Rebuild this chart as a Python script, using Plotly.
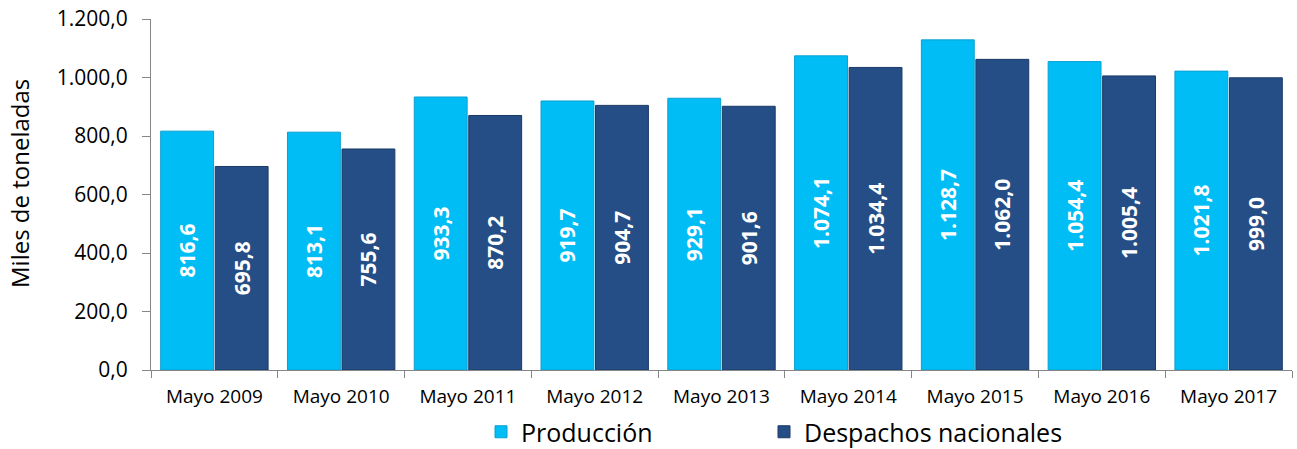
import plotly.graph_objects as go

categories = ["Mayo 2009", "Mayo 2010", "Mayo 2011", "Mayo 2012", "Mayo 2013",
              "Mayo 2014", "Mayo 2015", "Mayo 2016", "Mayo 2017"]
produccion = [816.6, 813.1, 933.3, 919.7, 929.1, 1074.1, 1128.7, 1054.4, 1021.8]
despachos = [695.8, 755.6, 870.2, 904.7, 901.6, 1034.4, 1062.0, 1005.4, 999.0]
y_ticks = [0, 200, 400, 600, 800, 1000, 1200]

FONT = "Open Sans"
label_font = dict(family=FONT, size=21, color="white")

fig = go.Figure()
fig.add_trace(go.Bar(
    x=categories, y=produccion, name="Producción", legend="legend",
    marker=dict(color="#00BDF6", line=dict(color="#0AA0D0", width=1)),
    texttemplate="<b>%{y:,.1f}</b>", textposition="inside", insidetextanchor="middle",
    textangle=-90, textfont=label_font,
))
fig.add_trace(go.Bar(
    x=categories, y=despachos, name="Despachos nacionales", legend="legend2",
    marker=dict(color="#244E85", line=dict(color="#1A3A66", width=1)),
    texttemplate="<b>%{y:,.1f}</b>", textposition="inside", insidetextanchor="middle",
    textangle=-90, textfont=label_font,
))

leg_common = dict(orientation="h", xanchor="left", y=-(432 - 370) / 351, yanchor="middle",
                  font=dict(size=25, family=FONT), itemwidth=30,
                  bgcolor="rgba(0,0,0,0)")
fig.update_layout(
    width=1297, height=449,
    margin=dict(l=151, r=5, t=19, b=79, autoexpand=False),
    paper_bgcolor="white", plot_bgcolor="white",
    separators=",.",
    barmode="group", bargap=0.14, bargroupgap=0.03,
    font=dict(family=FONT, color="black"),
    uniformtext=dict(mode="show", minsize=10),
    legend=dict(x=(481 - 151) / 1141, **leg_common),
    legend2=dict(x=(764 - 151) / 1141, **leg_common),
    showlegend=True,
    annotations=[dict(text="Miles de toneladas", textangle=-90, showarrow=False,
                      xref="paper", yref="paper", x=-(151 - 19) / 1141, y=(370 - 184) / 351,
                      xanchor="center", yanchor="middle",
                      font=dict(size=24, family=FONT, color="black"))],
)
fig.update_xaxes(
    showline=True, linecolor="#868686", linewidth=1,
    ticks="outside", tickson="boundaries", ticklen=7, tickcolor="#868686",
    tickfont=dict(size=19, family=FONT), ticklabelstandoff=9,
)
fig.update_yaxes(
    range=[0, 1200], tickvals=y_ticks, tickformat=",.1f",
    showline=True, linecolor="#868686", linewidth=1,
    ticks="outside", ticklen=8, tickcolor="#868686",
    showgrid=False, zeroline=False,
    tickfont=dict(size=21, family=FONT), ticklabelstandoff=10,
)
fig.write_html("out.html")
